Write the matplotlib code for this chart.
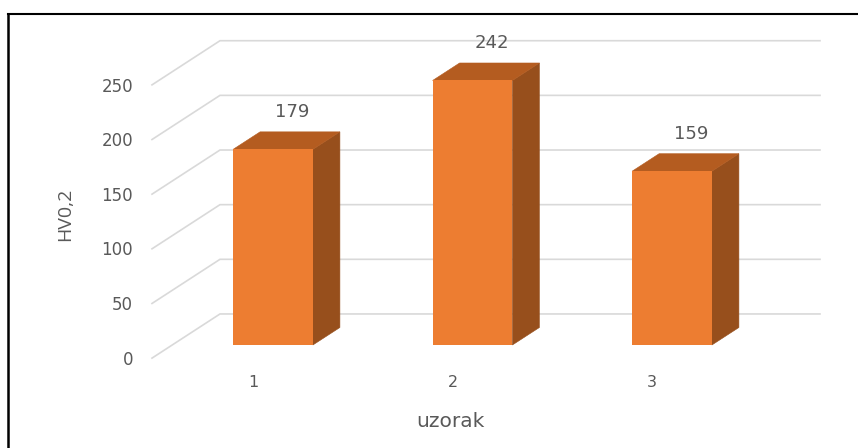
import matplotlib
matplotlib.use('Agg')
import matplotlib.pyplot as plt
from matplotlib.patches import Polygon, Rectangle

plt.rcParams['font.family'] = ['DejaVu Sans']

categories = [1, 2, 3]
values = [179, 242, 159]
y_ticks = [0, 50, 100, 150, 200, 250]

W, H = 858, 448
PX_CAT = 199.5   # pixels per category
PX_VAL = 1.093   # pixels per hardness unit
bar_w = 0.40
depth_x = 27 / PX_CAT
depth_y = 17.5 / PX_VAL

front = '#ED7D31'
top = '#B45C20'
side = '#974F1C'
grid_c = '#D9D9D9'
text_c = '#595959'

fig = plt.figure(figsize=(W / 100, H / 100), dpi=100)
ax = fig.add_axes([0, 0, 1, 1])
# category 1 sits at x=273 px, value 0 at y=345 px
ax.set_xlim(1 - 273 / PX_CAT, 1 + (W - 273) / PX_CAT)
ax.set_ylim(-(H - 345) / PX_VAL, 345 / PX_VAL)
ax.axis('off')

# back wall and floor grid
wall_x0 = 1 + (152 - 273) / PX_CAT
wall_x1 = 1 + (220 - 273) / PX_CAT
wall_x2 = 1 + (820 - 273) / PX_CAT
for v in y_ticks:
    y0 = v - 12
    y1 = v + 28.4
    ax.plot([wall_x0, wall_x1, wall_x2], [y0, y1, y1], color=grid_c, lw=1.2, zorder=1,
            solid_joinstyle='miter')
    ax.text(wall_x0 - 0.095, y0 - 1.5, str(v), ha='right', va='center', fontsize=12, color=text_c)

# bars
for c, v in zip(categories, values):
    l = c - bar_w / 2
    r = c + bar_w / 2
    ax.add_patch(Polygon([(r, 0), (r + depth_x, depth_y), (r + depth_x, v + depth_y), (r, v)],
                         fc=side, ec=side, lw=0.4, zorder=3))
    ax.add_patch(Polygon([(l, v), (r, v), (r + depth_x, v + depth_y), (l + depth_x, v + depth_y)],
                         fc=top, ec=top, lw=0.4, zorder=3))
    ax.add_patch(Rectangle((l, 0), bar_w, v, fc=front, ec='none', zorder=4))
    ax.text(c + 0.095, v + 34, str(v), ha='center', va='center', fontsize=13, color=text_c, zorder=5)
    ax.text(c - 0.1, -34, str(c), ha='center', va='center', fontsize=11.5, color=text_c)

ax.text(1 + (450 - 273) / PX_CAT, -70, 'uzorak', ha='center', va='center', fontsize=14.5, color=text_c)
ax.text(1 + (65 - 273) / PX_CAT, 120, 'HV0,2', rotation=90, ha='center', va='center', fontsize=14,
        color=text_c, family='Open Sans')

# black frame round the chart
ax.plot([1 - 264.5 / PX_CAT, 1 - 264.5 / PX_CAT], [-(H - 345) / PX_VAL, (345 - 14) / PX_VAL], color='black', lw=1.8)
ax.plot([1 - 264.5 / PX_CAT, 1 + (W - 273) / PX_CAT], [(345 - 14) / PX_VAL] * 2, color='black', lw=1.5)

fig.savefig('out.png', dpi=100)
